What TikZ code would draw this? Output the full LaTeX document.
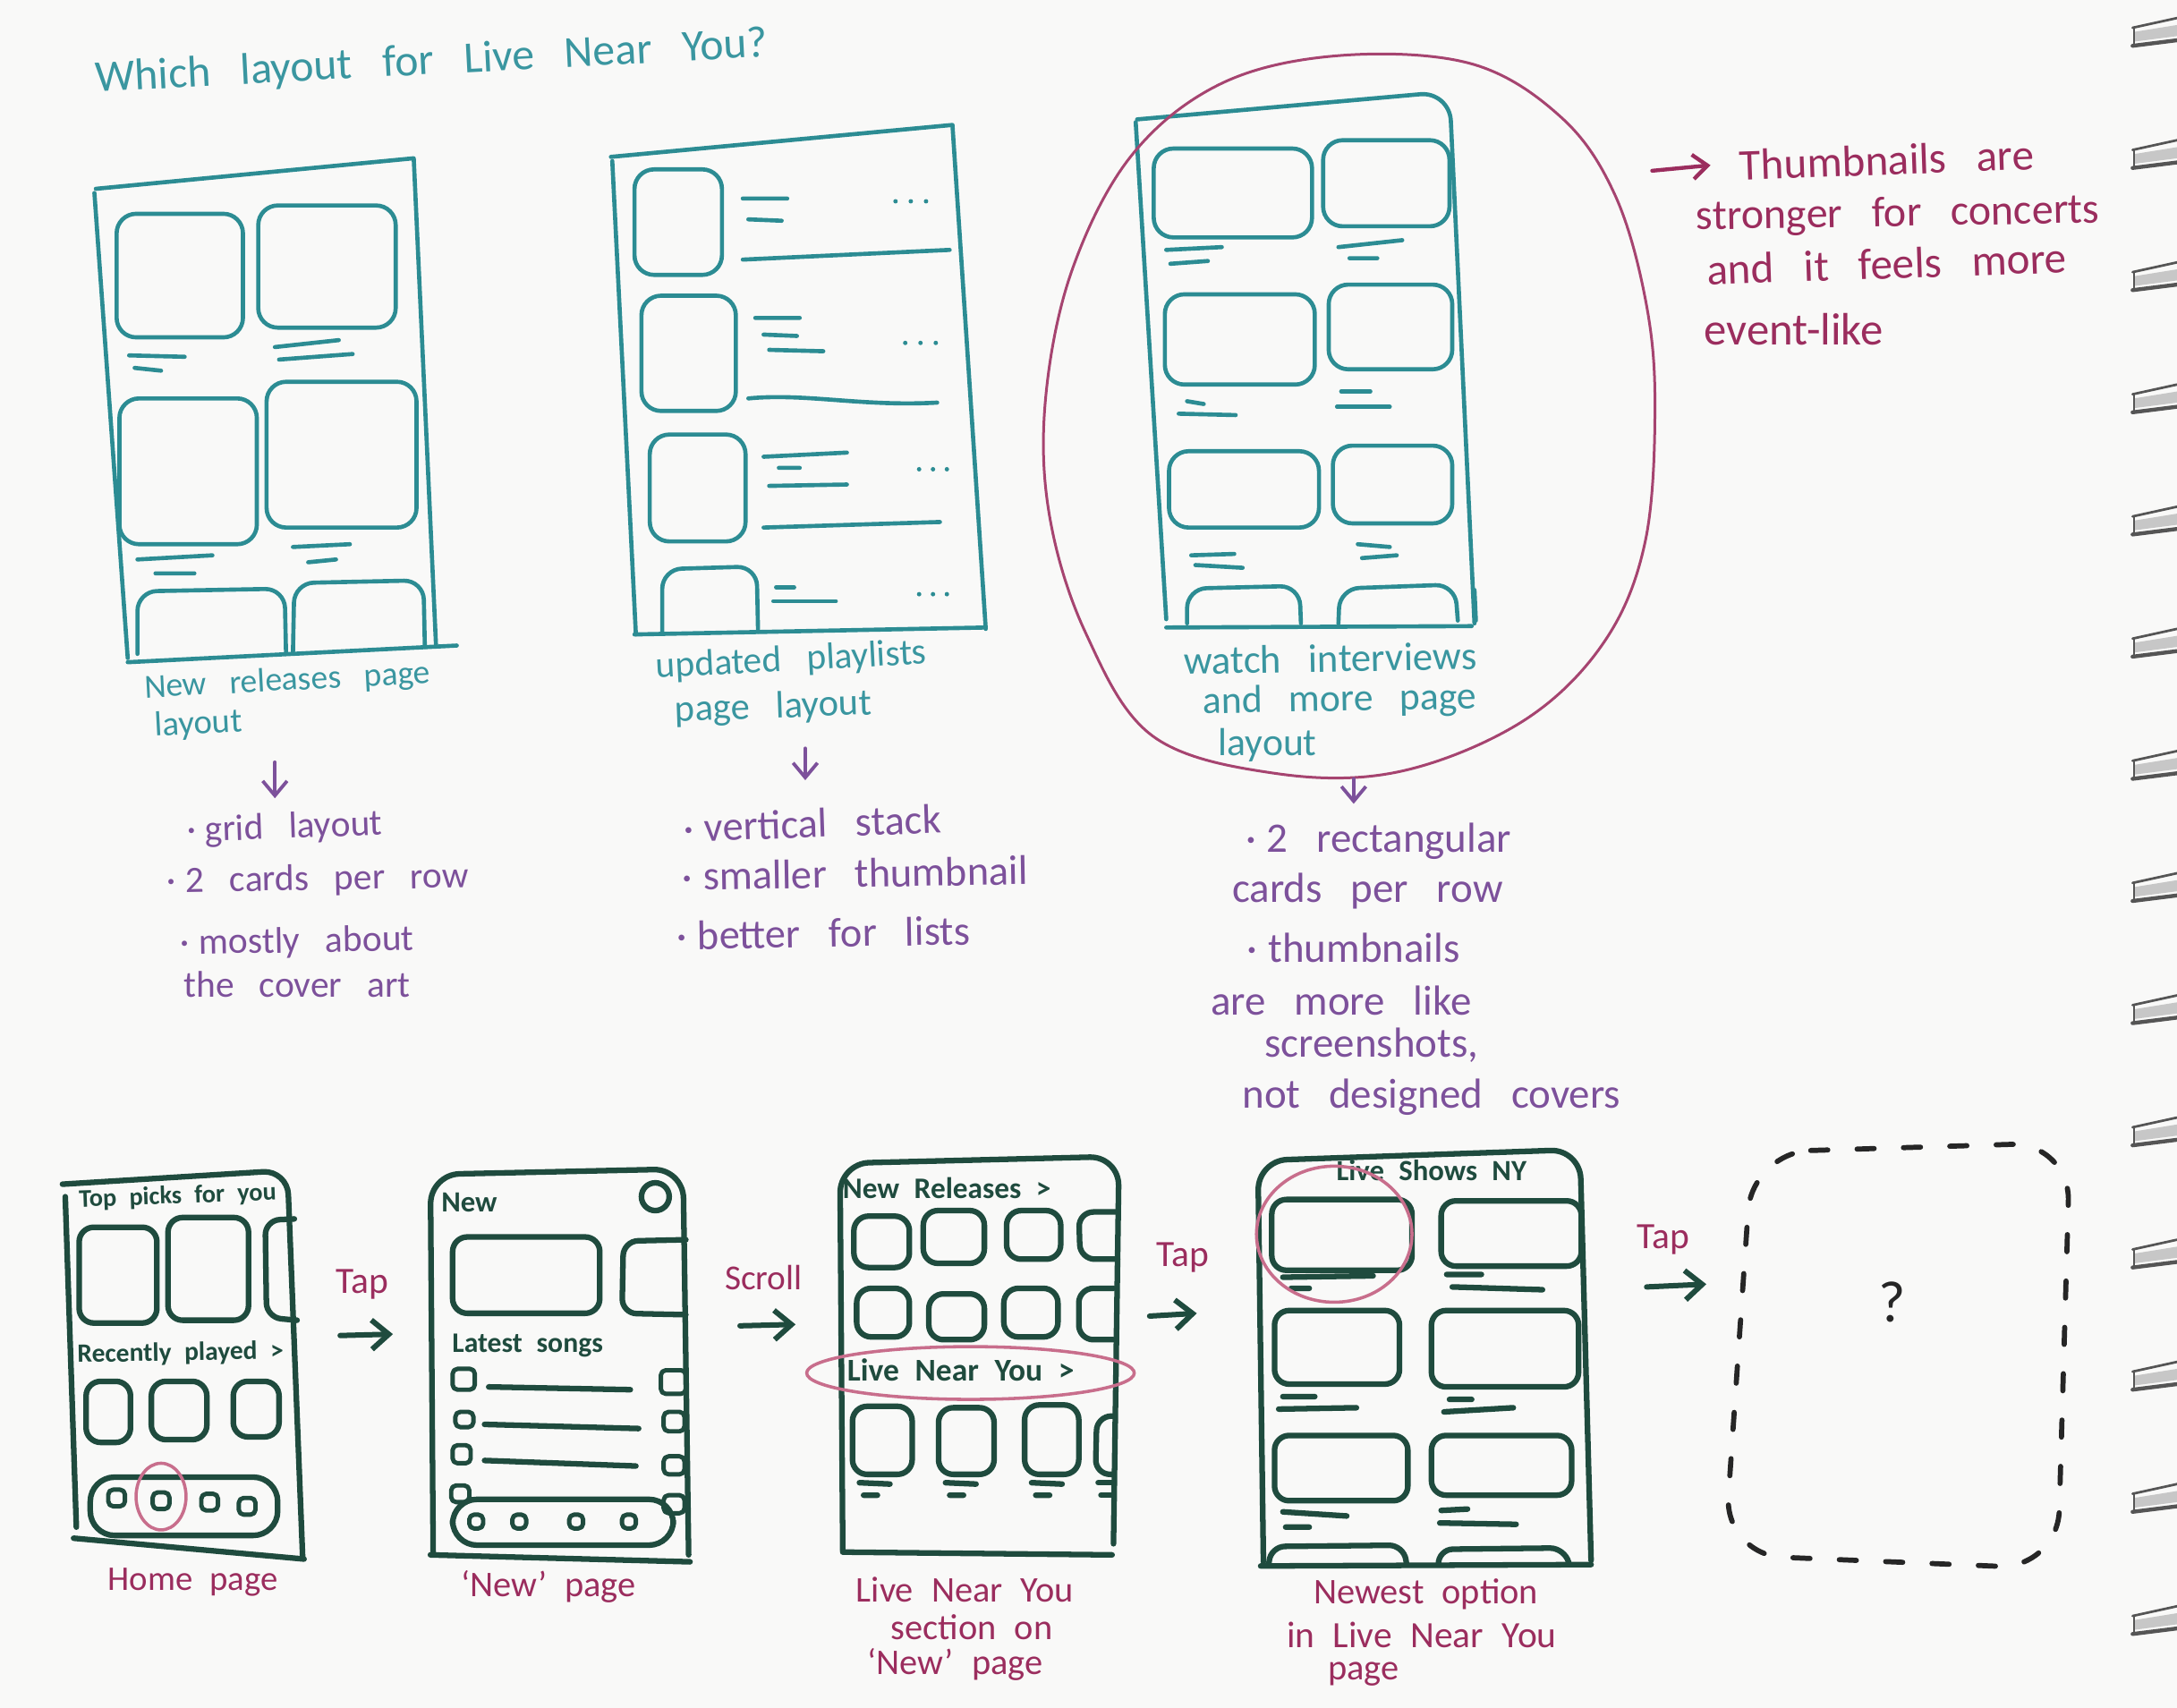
\documentclass[tikz,border=0pt]{standalone}
\usepackage{fontspec}
\setmainfont{Carlito}[WordSpace=3]
\newfontfamily\smallhand{Carlito}[WordSpace=1.4]
\newfontfamily\midhand{Carlito}[WordSpace=2.2]
\newcommand{\bul}{·\hspace{0.25em}}
\usetikzlibrary{arrows.meta}
\definecolor{paper}{HTML}{F9F9F8}
\definecolor{tealc}{HTML}{2C8C93}
\definecolor{tealt}{HTML}{3A96A0}
\definecolor{purp}{HTML}{7D519B}
\definecolor{maroonc}{HTML}{9B2D5E}
\definecolor{ringc}{HTML}{A64470}
\definecolor{pinkc}{HTML}{C86E8C}
\definecolor{dgreen}{HTML}{1F4B3E}
\definecolor{bindc}{HTML}{555555}
\begin{document}
\begin{tikzpicture}[x=0.01cm,y=-0.01cm,line cap=round,line join=round,
  tl/.style={draw=tealc,line width=0.85pt},
  tc/.style={tl,rounded corners=4pt},
  gl/.style={draw=dgreen,line width=1.15pt},
  gc/.style={gl,rounded corners=3pt},
  icon/.style={draw=dgreen,line width=0.9pt,rounded corners=1pt},
  fs/.style={font=\fontsize{#1}{#1}\selectfont},
  ms/.style={font=\midhand\fontsize{#1}{#1}\selectfont},
  gs/.style={font=\smallhand\bfseries\fontsize{#1}{#1}\selectfont},
  ttxt/.style={inner sep=0pt,text=tealt},
  ptxt/.style={inner sep=0pt,text=purp},
  mtxt/.style={inner sep=0pt,text=maroonc},
  gtxt/.style={inner sep=0pt,text=dgreen},
  parr/.style={draw=purp,line width=0.7pt,-{Straight Barb[length=3pt,width=5pt]}},
  garr/.style={draw=dgreen,line width=1.1pt,-{Straight Barb[length=3.5pt,width=6pt]}},
  marr/.style={draw=maroonc,line width=0.8pt,-{Straight Barb[length=3pt,width=5pt]}},
  ring/.style={draw=ringc,line width=0.55pt},
  pring/.style={draw=pinkc,line width=0.65pt}]
\fill[paper] (0,0) rectangle (1568,1230);
\useasboundingbox (0,0) rectangle (1568,1230);

% ---------- title ----------
\node[ttxt,fs=9.1,rotate=3] (title) at (311,45) {Which layout for Live Near You?};

% ---------- layout 1 ----------
\draw[tl] (69,136) -- (298,114) -- (314,464);
\draw[tl] (68,139) -- (92,474);
\draw[tl] (92,477) -- (329,465);
\draw[tc] (84,154) rectangle (175,243);
\draw[tc] (186,148) rectangle (285,236);
\draw[tl] (93,256) -- (133,257) (97,265) -- (116,267);
\draw[tl] (198,250) -- (244,245) (201,259) -- (254,255);
\draw[tc] (86,287) rectangle (185,392);
\draw[tc] (192,275) rectangle (300,380);
\draw[tl] (99,403) -- (153,400) (112,413) -- (140,413);
\draw[tl] (211,394) -- (252,392) (222,405) -- (242,403);
\draw[tc] (99,471) -- (99,426) -- (205,424) -- (206,470);
\draw[tc] (211,470) -- (212,420) -- (305,418) -- (306,466);
\node[ttxt,fs=6.9,rotate=3] (cap1a) at (207,491) {New releases page};
\node[ttxt,fs=7.1,rotate=3] (cap1b) at (143,522) {layout};
\coordinate (a1s) at (198,549); \coordinate (a1e) at (198,575);
\draw[parr] (a1s) -- (a1e);
\node[ptxt,fs=7.6,rotate=2] (b1a) at (205,597) {\bul grid layout};
\node[ptxt,fs=7.6,rotate=1] (b1b) at (229,634) {\bul 2 cards per row};
\node[ptxt,fs=7.6,rotate=1] (b1c) at (214,679) {\bul mostly about};
\node[ptxt,fs=7.6] (b1d) at (214,709) {the cover art};

% ---------- layout 2 ----------
\draw[tl] (440,113) -- (686,90) -- (710,453);
\draw[tl] (441,116) -- (458,457);
\draw[tl] (457,457) -- (710,452);
\draw[tc] (457,122) rectangle (520,198);
\draw[tc] (462,213) rectangle (530,296);
\draw[tc] (468,313) rectangle (537,390);
\draw[tc] (477,455) -- (477,410) -- (545,408) -- (546,455);
\draw[tl] (535,143) -- (567,143) (539,158) -- (563,159) (535,187) -- (684,180);
\draw[tl] (544,229) -- (576,229) (550,241) -- (574,242) (554,252) -- (593,253);
\draw[tl] (539,287) .. controls (580,283) and (620,293) .. (675,290);
\draw[tl] (550,329) -- (610,326) (561,337) -- (576,337) (554,350) -- (610,349) (550,380) -- (677,376);
\draw[tl] (559,423) -- (572,423) (557,433) -- (602,433);
\foreach \x in {645,656,667} \fill[tealc] (\x,145) circle (1.6);
\foreach \x in {652,663,674} \fill[tealc] (\x,247) circle (1.6);
\foreach \x in {662,672,682} \fill[tealc] (\x,338) circle (1.6);
\foreach \x in {662,672,682} \fill[tealc] (\x,428) circle (1.6);
\node[ttxt,fs=7.6,rotate=3] (cap2a) at (570,476) {updated playlists};
\node[ttxt,fs=7.8,rotate=2] (cap2b) at (557,510) {page layout};
\coordinate (a2s) at (580,539); \coordinate (a2e) at (580,562);
\draw[parr] (a2s) -- (a2e);
\node[ptxt,fs=8.5,rotate=2] (b2a) at (585,593) {\bul vertical stack};
\node[ptxt,fs=8.5,rotate=1] (b2b) at (616,629) {\bul smaller thumbnail};
\node[ptxt,fs=8.5,rotate=1] (b2c) at (593,672) {\bul better for lists};

% ---------- layout 3 ----------
\draw[tl,rounded corners=6pt] (819,86) -- (1044,66) -- (1062,449);
\draw[tl] (818,88) -- (840,446);
\draw[tl] (840,452) -- (1060,451);
\draw[tl] (1062,425) -- (1063,447);
\draw[tc] (831,107) rectangle (945,171);
\draw[tc] (953,101) rectangle (1044,163);
\draw[tl] (840,180) -- (880,178) (843,190) -- (870,188);
\draw[tl] (964,178) -- (1010,173) (972,186) -- (992,186);
\draw[tc] (839,212) rectangle (947,277);
\draw[tc] (957,205) rectangle (1046,266);
\draw[tl] (855,289) -- (867,291) (849,298) -- (890,299);
\draw[tl] (966,282) -- (987,282) (963,293) -- (1001,293);
\draw[tc] (842,325) rectangle (950,380);
\draw[tc] (960,321) rectangle (1046,377);
\draw[tl] (858,400) -- (889,399) (861,407) -- (895,409);
\draw[tl] (978,392) -- (1001,394) (981,402) -- (1006,400);
\draw[tc] (855,449) -- (855,424) -- (936,422) -- (937,449);
\draw[tc] (964,449) -- (965,424) -- (1048,421) -- (1050,447);
\node[ttxt,fs=8.2,rotate=1] (cap3a) at (958,474) {watch interviews};
\node[ttxt,fs=8,rotate=1] (cap3b) at (965,505) {and more page};
\node[ttxt,fs=8] (cap3c) at (913,537) {layout};
\draw[ring] plot[smooth cycle,tension=0.6] coordinates {(965,40) (1060,46) (1125,85) (1163,140) (1185,215) (1192,290) (1185,390) (1155,463) (1096,520) (1007,556) (918,557) (830,530) (782,456) (756,372) (753,288) (772,195) (815,112) (880,60)};
\coordinate (a3s) at (975,561); \coordinate (a3e) at (975,579);
\draw[parr] (a3s) -- (a3e);
\node[ptxt,fs=8.6] (b3a) at (993,606) {\bul 2 rectangular};
\node[ptxt,fs=8.6] (b3b) at (985,642) {cards per row};
\node[ptxt,fs=8.6] (b3c) at (975,683) {\bul thumbnails};
\node[ptxt,fs=8.6] (b3d) at (966,721) {are more like};
\node[ptxt,fs=8.6] (b3e) at (988,753) {screenshots,};
\node[ptxt,fs=8.6] (b3f) at (1031,790) {not designed covers};

% ---------- note ----------
\coordinate (n1) at (1190,123); \coordinate (n2) at (1232,119);
\draw[marr] (n1) -- (n2);
\node[mtxt,fs=9,rotate=2] (nt1) at (1359,115) {Thumbnails are};
\node[mtxt,fs=8.8,rotate=1] (nt2) at (1367,155) {stronger for concerts};
\node[mtxt,fs=9,rotate=2] (nt3) at (1359,190) {and it feels more};
\node[mtxt,fs=9.3] (nt4) at (1292,237) {event-like};

% ---------- screen 1 : home ----------
\draw[gl,rounded corners=5pt] (45,853) -- (207,843) -- (218,1122);
\draw[gl] (47,862) -- (55,1100);
\draw[gl] (53,1108) -- (219,1123);
\node[gtxt,gs=5.2,rotate=2] (s1t1) at (128,862) {Top picks for you};
\draw[gc] (57,884) rectangle (113,953);
\draw[gc] (121,877) rectangle (179,951);
\draw[gc] (212,878) -- (191,879) -- (192,949) -- (214,951);
\node[gtxt,gs=5.4,rotate=1] (s1t2) at (130,975) {Recently played >};
\draw[gc] (62,995) rectangle (94,1039);
\draw[gc] (109,995) rectangle (149,1037);
\draw[gc] (168,995) rectangle (201,1035);
\draw[gl,rounded corners=5pt] (65,1064) rectangle (200,1106);
\foreach \x/\y in {84/1079,116/1081,151/1082,178/1085} \draw[icon] (\x-6,\y-6) rectangle (\x+6,\y+6);
\draw[pring] (116,1078) ellipse [x radius=18,y radius=24];
\node[mtxt,ms=7.1] (s1c) at (139,1140) {Home page};

\node[mtxt,ms=7.6] (tap1) at (261,925) {Tap};
\coordinate (r1s) at (245,962); \coordinate (r1e) at (283,961);
\draw[garr] (r1s) -- (r1e);

% ---------- screen 2 : new ----------
\draw[gl,rounded corners=6pt] (312,1118) -- (310,846) -- (492,842) -- (496,1120);
\draw[gl] (310,1120) -- (497,1125);
\node[gtxt,gs=6] (s2t1) at (338,866) {New};
\draw[gl] (472,862) circle (10);
\draw[gc] (326,891) rectangle (432,946);
\draw[gc] (494,893) -- (449,894) -- (448,946) -- (494,947);
\node[gtxt,gs=5.8] (s2t2) at (380,969) {Latest songs};
\draw[icon] (326,986) rectangle (342,1001);
\draw[icon] (328,1017) rectangle (341,1028);
\draw[icon] (326,1041) rectangle (339,1054);
\draw[icon] (325,1070) rectangle (338,1082);
\draw[gl] (352,999) -- (454,1001) (349,1026) -- (460,1029) (349,1052) -- (458,1056);
\draw[icon] (476,987) rectangle (494,1004);
\draw[icon] (478,1017) rectangle (493,1031);
\draw[icon] (478,1049) rectangle (493,1062);
\draw[icon] (478,1077) rectangle (493,1090);
\draw[gl,rounded corners=5pt] (326,1080) rectangle (485,1113);
\foreach \x in {343,374,415,453} \draw[icon] (\x-5,1091) rectangle (\x+5,1101);
\node[mtxt,ms=7.4] (s2c) at (395,1143) {‘New’ page};

\node[mtxt,ms=7.2] (scr) at (550,920) {Scroll};
\coordinate (r2s) at (533,955); \coordinate (r2e) at (573,954);
\draw[garr] (r2s) -- (r2e);

% ---------- screen 3 : live near you section ----------
\draw[gl,rounded corners=6pt] (607,1117) -- (605,838) -- (806,833) -- (802,1112);
\draw[gl] (607,1118) -- (801,1120);
\node[gtxt,gs=6.1] (s3t1) at (682,856) {New Releases >};
\draw[gc] (615,876) rectangle (655,913);
\draw[gc] (665,872) rectangle (709,910);
\draw[gc] (725,872) rectangle (764,907);
\draw[gc] (805,873) -- (777,873) -- (778,907) -- (805,907);
\draw[gc] (617,928) rectangle (655,963);
\draw[gc] (669,932) rectangle (709,965);
\draw[gc] (723,928) rectangle (762,963);
\draw[gc] (802,928) -- (777,928) -- (777,965) -- (802,965);
\draw[pring] (699,989) ellipse [x radius=118,y radius=19];
\node[gtxt,gs=6.5] (s3t2) at (692,987) {Live Near You >};
\draw[gc] (614,1013) rectangle (657,1062);
\draw[gc] (676,1014) rectangle (716,1062);
\draw[gc] (738,1012) rectangle (777,1062);
\draw[gc] (802,1020) -- (790,1020) -- (789,1062) -- (802,1062);
\foreach \x in {614,676,738} \draw[gl] (\x+5,1068) -- (\x+27,1069) (\x+8,1077) -- (\x+18,1077);
\draw[gl] (791,1068) -- (801,1068) (793,1077) -- (800,1077);
\node[mtxt,ms=7.4] (s3c1) at (695,1145) {Live Near You};
\node[mtxt,ms=7.4] (s3c2) at (700,1172) {section on};
\node[mtxt,ms=7.4] (s3c3) at (688,1199) {‘New’ page};

\node[mtxt,ms=7.6] (tap2) at (852,906) {Tap};
\coordinate (r3s) at (828,948); \coordinate (r3e) at (862,946);
\draw[garr] (r3s) -- (r3e);

% ---------- screen 4 : live shows ----------
\draw[gl,rounded corners=6pt] (910,1125) -- (906,836) -- (1138,828) -- (1146,1124);
\draw[gl] (908,1128) -- (1146,1127);
\node[gtxt,gs=6] (s4t1) at (1031,843) {Live Shows NY};
\draw[gc] (916,864) rectangle (1017,915);
\draw[gc] (1038,865) rectangle (1139,912);
\draw[gl] (924,920) -- (989,919) (930,928) -- (943,928);
\draw[gl] (1042,918) -- (1067,918) (1046,927) -- (1111,929);
\draw[gc] (918,944) rectangle (1008,997);
\draw[gc] (1031,944) rectangle (1137,999);
\draw[gl] (924,1006) -- (947,1006) (921,1015) -- (977,1014);
\draw[gl] (1044,1008) -- (1060,1008) (1040,1017) -- (1090,1014);
\draw[gc] (918,1034) rectangle (1014,1081);
\draw[gc] (1031,1034) rectangle (1132,1077);
\draw[gl] (924,1089) -- (970,1092) (926,1100) -- (943,1100);
\draw[gl] (1038,1088) -- (1057,1087) (1037,1097) -- (1092,1098);
\draw[gc] (914,1126) -- (915,1114) -- (1011,1113) -- (1013,1126);
\draw[gc] (1036,1126) -- (1036,1116) -- (1127,1115) -- (1130,1126);
\draw[pring] (961,889) ellipse [x radius=56,y radius=49];
\node[mtxt,ms=7.4] (s4c1) at (1027,1148) {Newest option};
\node[mtxt,ms=7.6] (s4c2) at (1024,1178) {in Live Near You};
\node[mtxt,ms=7.4] (s4c3) at (982,1206) {page};

\node[mtxt,ms=7.6] (tap3) at (1198,893) {Tap};
\coordinate (r4s) at (1186,927); \coordinate (r4e) at (1229,925);
\draw[garr] (r4s) -- (r4e);

% ---------- dashed placeholder ----------
\draw[black!85,line width=1.05pt,dash pattern=on 3.5pt off 6pt,rounded corners=12pt]
  (1262,830) -- (1491,823) -- (1482,1130) -- (1242,1120) -- cycle;
\node[inner sep=0pt,text=black!85,fs=12] (qm) at (1363,938) {?};

% ---------- notebook binding ----------
\foreach \k in {0,...,13} {
  \pgfmathsetmacro\yy{18+88*\k}
  \fill[black!22] (1537,\yy+5) -- (1568,\yy) -- (1568,\yy+8) -- (1537,\yy+12) -- cycle;
  \draw[bindc,line width=0.5pt] (1536,\yy+2) -- (1568,\yy-5);
  \draw[bindc,line width=0.8pt] (1536,\yy+15) -- (1568,\yy+11);
  \draw[bindc,line width=0.5pt] (1537,\yy+2) -- (1537,\yy+15);
}
\end{tikzpicture}
\end{document}
